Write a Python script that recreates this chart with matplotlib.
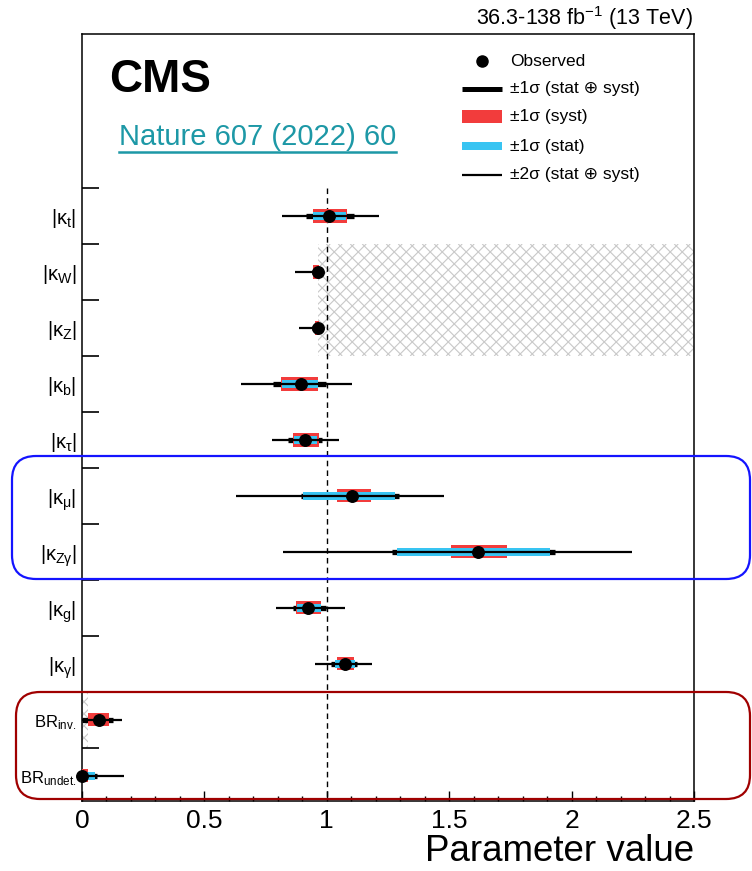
import matplotlib
matplotlib.use("Agg")
import matplotlib.pyplot as plt
from matplotlib.patches import Rectangle, FancyBboxPatch
from matplotlib.lines import Line2D
from matplotlib.collections import LineCollection
from matplotlib.transforms import IdentityTransform
import numpy as np

#============================================================
# data
labels = [r"$|\kappa_{\mathrm{t}}|$", r"$|\kappa_{\mathrm{W}}|$", r"$|\kappa_{\mathrm{Z}}|$",
          r"$|\kappa_{\mathrm{b}}|$", r"$|\kappa_{\tau}|$", r"$|\kappa_{\mu}|$",
          r"$|\kappa_{\mathrm{Z}\gamma}|$", r"$|\kappa_{\mathrm{g}}|$", r"$|\kappa_{\gamma}|$",
          r"$\mathrm{BR}_{\mathrm{inv.}}$", r"$\mathrm{BR}_{\mathrm{undet.}}$"]
observed = [1.01, 0.965, 0.966, 0.895, 0.912, 1.104, 1.619, 0.925, 1.076, 0.069, 0.0]
tot2_lo = [0.818, 0.870, 0.888, 0.648, 0.776, 0.629, 0.820, 0.792, 0.950, 0.0, 0.0]
tot2_hi = [1.213, 0.965, 0.966, 1.103, 1.051, 1.477, 2.248, 1.076, 1.183, 0.163, 0.173]
tot1_lo = [0.914, 0.938, 0.940, 0.782, 0.843, 0.895, 1.268, 0.860, 1.017, 0.0, 0.0]
tot1_hi = [1.110, 0.965, 0.966, 0.997, 0.979, 1.295, 1.932, 0.997, 1.125, 0.125, 0.060]
syst_lo = [0.942, 0.945, 0.950, 0.812, 0.861, 1.040, 1.506, 0.874, 1.040, 0.026, 0.0]
syst_hi = [1.081, 0.968, 0.968, 0.966, 0.967, 1.179, 1.735, 0.978, 1.111, 0.112, 0.025]
stat_lo = [0.945, 0.950, 0.955, 0.815, 0.866, 0.901, 1.285, 0.878, 1.035, 0.055, 0.0]
stat_hi = [1.078, 0.966, 0.966, 0.963, 0.962, 1.279, 1.912, 0.975, 1.115, 0.085, 0.055]
x_ticks = [0, 0.5, 1, 1.5, 2, 2.5]
x_tick_labels = ["0", "0.5", "1", "1.5", "2", "2.5"]
kv_limit = 0.965   # |kappa_V| <= 1 region (hatched)
#============================================================

plt.rcParams["font.family"] = ["Liberation Sans", "DejaVu Sans"]
plt.rcParams["mathtext.fontset"] = "custom"
plt.rcParams["mathtext.rm"] = "Liberation Sans"
plt.rcParams["mathtext.it"] = "Liberation Sans"
plt.rcParams["mathtext.bf"] = "Liberation Sans:bold"

W, H = 752, 871
RED = "#f23c3c"
BLUE = "#38c4f2"

def fx(px):
    return px / W

def fy(py):
    return 1 - py / H

fig = plt.figure(figsize=(W / 100, H / 100), dpi=100)
ax = fig.add_axes([fx(82), fy(801), fx(694) - fx(82), fy(34) - fy(801)])
ax.set_xlim(0, 2.5)
ax.set_ylim(10.45, -3.25)

n = len(labels)
rows = np.arange(n)

# hatched excluded regions
def hatch_region(x0, x1, y0, y1, step=12):
    clip = Rectangle((x0, y0), x1 - x0, y1 - y0, fc="none", ec="none")
    ax.add_patch(clip)
    (dx0, dy0), (dx1, dy1) = ax.transData.transform([(x0, y1), (x1, y0)])
    h = dy1 - dy0
    segs = []
    for c in np.arange(dx0 - h, dx1 + h, step):
        segs.append([(c, dy0), (c + h, dy1)])
        segs.append([(c, dy1), (c + h, dy0)])
    lc = LineCollection(segs, colors="#c8c8c8", linewidths=0.8, transform=IdentityTransform(), zorder=1)
    ax.add_collection(lc)
    lc.set_clip_path(clip)

hatch_region(kv_limit, 2.5, 0.5, 2.5)
hatch_region(0.0, 0.025, 8.5, 9.5)

ax.vlines(1, -0.5, 10.45, colors="k", linestyles=(0, (4, 3)), lw=1.0, zorder=1.5)

for i in rows:
    ax.hlines(i, tot1_lo[i], tot1_hi[i], colors="k", lw=3.8, capstyle="butt", zorder=2)
    ax.add_patch(Rectangle((syst_lo[i], i - 0.118), syst_hi[i] - syst_lo[i], 0.236,
                           fc=RED, ec="none", zorder=3))
    ax.add_patch(Rectangle((stat_lo[i], i - 0.075), stat_hi[i] - stat_lo[i], 0.15,
                           fc=BLUE, ec="none", zorder=4))
    ax.hlines(i, tot2_lo[i], tot2_hi[i], colors="k", lw=1.6, capstyle="butt", zorder=5)
ax.plot(observed, rows, "o", color="k", ms=8.3, zorder=6, clip_on=False)

# axes styling
ax.set_xticks(x_ticks, x_tick_labels)
ax.set_xticks(np.arange(0, 2.51, 0.1), minor=True)
ax.tick_params(axis="x", which="major", direction="in", length=7, width=1, labelsize=19, pad=6, top=False)
ax.tick_params(axis="x", which="minor", direction="in", length=3.5, width=1, top=False)
ax.set_yticks(rows, labels)
ax.set_yticks(np.arange(-0.5, 10, 1.0), minor=True)
ax.tick_params(axis="y", which="major", length=0, labelsize=12, pad=4, right=False)
ax.tick_params(axis="y", which="minor", direction="in", length=12, width=1.2, right=False)
for lbl in ax.get_yticklabels()[:9]:
    lbl.set_fontsize(14.5)
for t in ax.yaxis.get_minor_ticks()[9:]:
    t.tick1line.set_color("#808080")
for s in ax.spines.values():
    s.set_linewidth(1.1)

# texts
fig.text(fx(693), fy(18), r"36.3-138 fb$^{-1}$ (13 TeV)", ha="right", va="center", fontsize=15.5)
fig.text(fx(109), fy(80), "CMS", ha="left", va="center", fontsize=33, fontweight="bold")
nat = fig.text(fx(119), fy(137), "Nature 607 (2022) 60", ha="left", va="center",
               fontsize=21, color="#1d98a6")
fig.text(fx(694), fy(869), "Parameter value", ha="right", va="bottom", fontsize=26.5)

fig.canvas.draw()
bb = nat.get_window_extent()
fig.add_artist(Line2D([bb.x0, bb.x1], [H - 152, H - 152], color="#1d98a6", lw=1.8,
                      transform=IdentityTransform()))

# legend
leg_y = [61, 89, 117, 146, 175]
leg_txt = ["Observed", "\u00b11\u03c3 (stat \u2295 syst)", "\u00b11\u03c3 (syst)",
           "\u00b11\u03c3 (stat)", "\u00b12\u03c3 (stat \u2295 syst)"]
fig.add_artist(Line2D([fx(482)], [fy(leg_y[0])], marker="o", color="k", ms=8, ls="none"))
fig.add_artist(Line2D([fx(462), fx(502)], [fy(leg_y[1])] * 2, color="k", lw=3.6, solid_capstyle="butt"))
fig.add_artist(Rectangle((fx(462), fy(leg_y[2] + 6.5)), fx(502) - fx(462), 13 / H, fc=RED, ec="none",
                         transform=fig.transFigure))
fig.add_artist(Rectangle((fx(462), fy(leg_y[3] + 4)), fx(502) - fx(462), 8 / H, fc=BLUE, ec="none",
                         transform=fig.transFigure))
fig.add_artist(Line2D([fx(462), fx(502)], [fy(leg_y[4])] * 2, color="k", lw=1.6, solid_capstyle="butt"))
for y, t in zip(leg_y, leg_txt):
    fig.text(fx(510), fy(y), t, ha="left", va="center", fontsize=12.5)

# highlight boxes
fig.add_artist(FancyBboxPatch((12, H - 579), 738, 123, boxstyle="round,pad=0,rounding_size=24",
                              fc="none", ec="#1414ff", lw=1.6, transform=IdentityTransform()))
fig.add_artist(FancyBboxPatch((16, H - 799), 734, 107, boxstyle="round,pad=0,rounding_size=24",
                              fc="none", ec="#a00000", lw=1.6, transform=IdentityTransform()))

fig.savefig("out.png", dpi=100)
